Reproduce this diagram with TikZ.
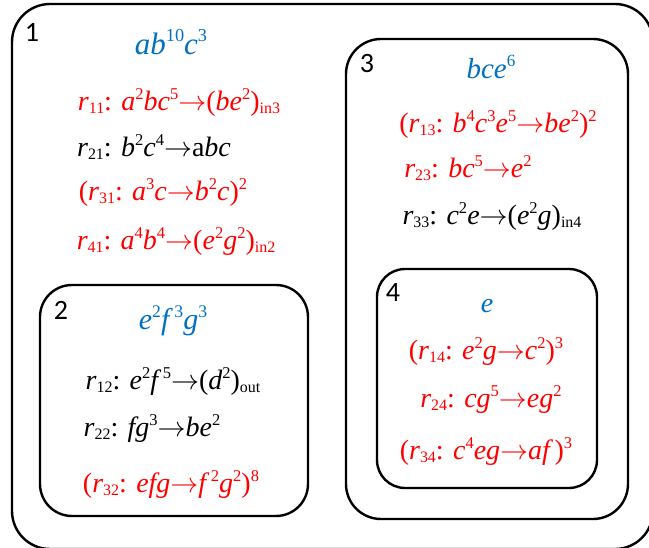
\RequirePackage{fix-cm}
\documentclass[tikz,border=0pt]{standalone}
\usepackage{fontspec}
\setmainfont{Liberation Serif}
\newfontfamily\lblfont{Carlito}
\definecolor{hblue}{RGB}{0,112,192}
\definecolor{rred}{RGB}{255,0,0}
\makeatletter
\newcommand\up[1]{\raisebox{.42em}{\fontsize{\fpeval{0.59*\f@size}}{1}\selectfont\upshape #1}}
\newcommand\dn[1]{\raisebox{-.08em}{\fontsize{\fpeval{0.57*\f@size}}{1}\selectfont\upshape #1}}
\makeatother
\newcommand\ar{\ensuremath{\rightarrow}}
\newcommand\lp{\textup{(}}
\newcommand\rp{\textup{)}}
\newcommand\cl{\textup{:} }
\tikzset{
  roundbox/.style={draw=black, line width=2.4pt, rounded corners=#1},
  rx/.style={anchor=base, inner sep=0pt, font=\fontsize{28}{32}\selectfont\itshape},
  hd/.style={anchor=base, inner sep=0pt, text=hblue, font=\fontsize{#1}{#1}\selectfont\itshape},
  lbl/.style={anchor=center, inner sep=0pt, font=\lblfont\fontsize{28}{30}\selectfont},
}
\begin{document}
\begin{tikzpicture}[x=1pt,y=-1pt]
\useasboundingbox (0,0) rectangle (649,548);
\clip (0,0) rectangle (649,548);
% boxes
\draw[roundbox=38pt] (12,4) rectangle (653,549);
\draw[roundbox=35pt] (346,39) rectangle (628,519);
\draw[roundbox=28pt] (377,269) rectangle (597,488);
\draw[roundbox=32pt] (40,285) rectangle (308,516);
% labels
\node[lbl] (l1) at (32,32) {1};
\node[lbl] (l2) at (61,310) {2};
\node[lbl] (l3) at (367,64) {3};
\node[lbl] (l4) at (393,293) {4};
% box 1
\node[hd=31] (h1) at (171,55) {ab\up{10}c\up{3}};
\node[rx, text=rred] (r11) at (179,111) {r\dn{11}\cl a\up{2}bc\up{5}\ar\lp be\up{2}\rp\dn{in3}};
\node[rx] (r21) at (154,157) {r\dn{21}\cl b\up{2}c\up{4}\ar\textup{a}bc};
\node[rx, text=rred] (r31) at (163,201) {\lp r\dn{31}\cl a\up{3}c\ar b\up{2}c\rp\up{2}};
\node[rx, text=rred] (r41) at (176,250) {r\dn{41}\cl a\up{4}b\up{4}\ar\lp e\up{2}g\up{2}\rp\dn{in2}};
% box 2
\node[hd=30] (h2) at (173,330) {e\up{2}f\,\up{3}g\up{3}};
\node[rx] (r12) at (173,390) {r\dn{12}\cl e\up{2}f\,\up{5}\ar\lp d\up{2}\rp\dn{out}};
\node[rx] (r22) at (152,437) {r\dn{22}\cl fg\up{3}\ar be\up{2}};
\node[rx, text=rred] (r32) at (171,493) {\lp r\dn{32}\cl efg\ar f\,\up{2}g\up{2}\rp\up{8}};
% box 3
\node[hd=29] (h3) at (491,79) {bce\up{6}};
\node[rx, text=rred] (r13) at (498,133) {\lp r\dn{13}\cl b\up{4}c\up{3}e\up{5}\ar be\up{2}\rp\up{2}};
\node[rx, text=rred] (r23) at (468,178) {r\dn{23}\cl bc\up{5}\ar e\up{2}};
\node[rx] (r33) at (492,225) {r\dn{33}\cl c\up{2}e\ar\lp e\up{2}g\rp\dn{in4}};
% box 4
\node[hd=28] (h4) at (487,313) {e};
\node[rx, text=rred] (r14) at (486,360) {\lp r\dn{14}\cl e\up{2}g\ar c\up{2}\rp\up{3}};
\node[rx, text=rred] (r24) at (491,408) {r\dn{24}\cl cg\up{5}\ar eg\up{2}};
\node[rx, text=rred] (r34) at (486,460) {\lp r\dn{34}\cl c\up{4}eg\ar af\,\rp\up{3}};
\end{tikzpicture}
\end{document}
